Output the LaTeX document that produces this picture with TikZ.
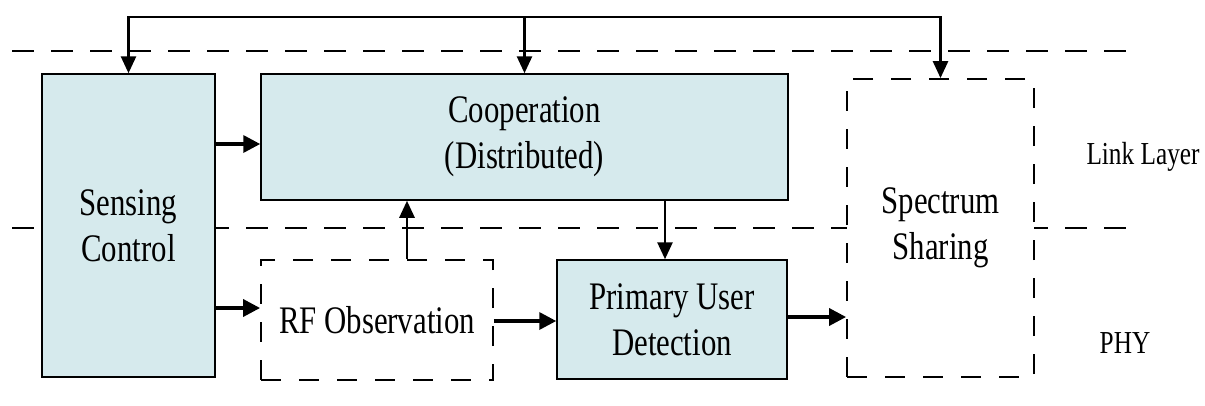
\documentclass[tikz,border=0pt]{standalone}
\usepackage{fontspec}
\setmainfont{Liberation Serif}
\newfontfamily\narrowserif[FakeStretch=0.79]{Liberation Serif}
\usetikzlibrary{arrows.meta}
\definecolor{boxfill}{RGB}{214,234,237}
\begin{document}
\begin{tikzpicture}[x=1pt,y=-1pt,
  blk/.style={draw, line width=1.5pt, fill=boxfill, align=center,
    font=\narrowserif\fontsize{39}{46}\selectfont, inner sep=0pt},
  dblk/.style={draw, line width=1.8pt, dash pattern=on 20pt off 18pt,
    fill=white, align=center, font=\narrowserif\fontsize{39}{46}\selectfont, inner sep=0pt},
  arr/.style={line width=3.5pt, -{Triangle[length=17pt,width=17pt]}},
  varr/.style={line width=2.7pt, line join=miter, -{Triangle[length=17pt,width=15pt]}},
  layer/.style={line width=2pt, dash pattern=on 22pt off 17pt},
  lbl/.style={font=\narrowserif\fontsize{32}{38}\selectfont}]
\useasboundingbox (0,0) rectangle (1205,405);
\fill[white] (0,0) rectangle (1205,405);

% layer boundaries
\draw[layer] (12,51) -- (1127,51);
\draw[layer] (12,228) -- (1127,228);

% blocks
\node[blk, minimum width=173pt, minimum height=303pt] (sc) at (128.5,225.5) {Sensing\\Control};
\node[blk, minimum width=527pt, minimum height=126pt] (coop) at (524.5,137) {Cooperation\\(Distributed)};
\node[dblk, minimum width=187pt, minimum height=298pt] (ss) at (940.5,228) {Spectrum\\Sharing};
\node[dblk, minimum width=232pt, minimum height=120pt] (rf) at (377,320) {RF Observation};
\node[blk, minimum width=230pt, minimum height=119pt] (pud) at (672,319.5) {Primary User\\Detection};

% layer labels
\node[lbl] (ll) at (1143,157) {Link Layer};
\node[lbl] (phy) at (1125,343) {PHY};

% routing levels
\coordinate (top) at (0,17);
\coordinate (r1) at (0,144);
\coordinate (r2) at (0,308);
\coordinate (r3) at (0,321);
\coordinate (r4) at (0,317);
\coordinate (c1) at (407,0);
\coordinate (c2) at (665,0);

% feedback bus
\draw[varr, {Triangle[length=17pt,width=15pt]}-{Triangle[length=17pt,width=15pt]}]
  (sc.north) -- (sc.north |- top) -- (ss.north |- top) -- (ss.north);
\draw[varr] (coop.north |- top) -- (coop.north);

% data flow
\draw[arr] (sc.east |- r1) -- (coop.west |- r1);
\draw[arr] (sc.east |- r2) -- (rf.west |- r2);
\draw[arr] (rf.east |- r3) -- (pud.west |- r3);
\draw[arr] (pud.east |- r4) -- (ss.west |- r4);
\draw[varr] (rf.north -| c1) -- (coop.south -| c1);
\draw[varr] (coop.south -| c2) -- (pud.north -| c2);
\end{tikzpicture}
\end{document}
